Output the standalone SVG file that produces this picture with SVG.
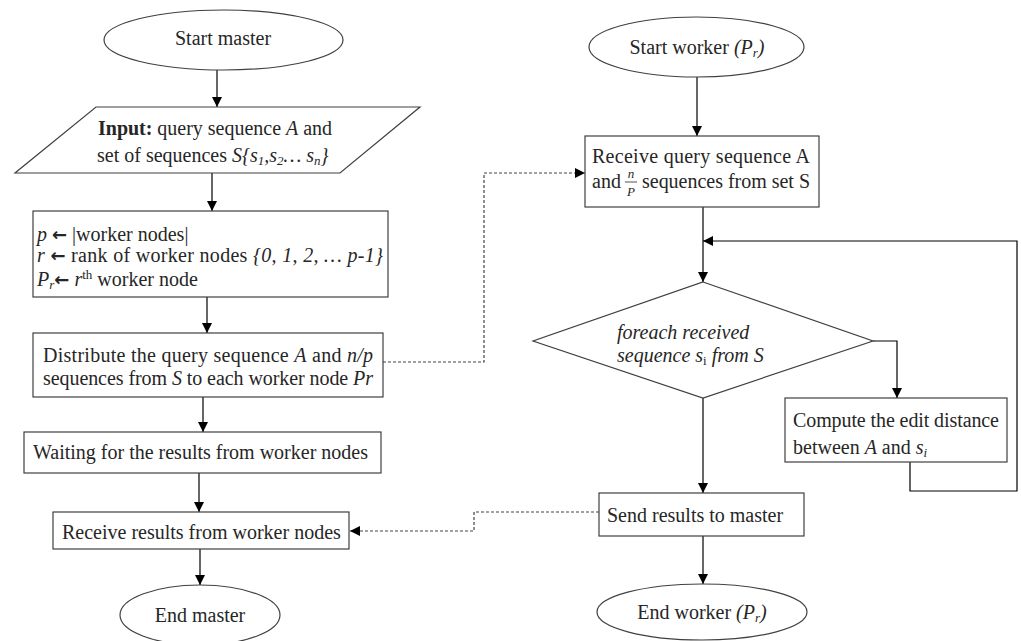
<svg xmlns="http://www.w3.org/2000/svg" width="1021" height="641" viewBox="0 0 1021 641">
<defs>
<marker id="ah" viewBox="0 0 10 10" refX="10" refY="5" markerWidth="10" markerHeight="10" markerUnits="userSpaceOnUse" orient="auto">
<path d="M0,0 L10,5 L0,10 z" fill="#000"/>
</marker>
</defs>
<style>
.shape{fill:#fff;stroke:#404040;stroke-width:1.2}
.t{font-family:"Liberation Serif","Times New Roman",serif;font-size:20px;fill:#262626}
.c{text-anchor:middle}
.i{font-style:italic}
.b{font-weight:bold}
.sm{font-size:13px}
.arr{font-family:"DejaVu Sans",sans-serif;font-weight:bold;font-size:18px}
.ln{fill:none;stroke:#000;stroke-width:1.2}
.dash{fill:none;stroke:#444;stroke-width:1.2;stroke-dasharray:3,2}
</style>
<rect width="1021" height="641" fill="#fff"/>

<g id="connectors">
<line class="ln" x1="217" y1="70" x2="217" y2="107" marker-end="url(#ah)"/>
<line class="ln" x1="212" y1="173" x2="212" y2="211" marker-end="url(#ah)"/>
<line class="ln" x1="207" y1="297" x2="207" y2="333" marker-end="url(#ah)"/>
<line class="ln" x1="203" y1="397" x2="203" y2="432" marker-end="url(#ah)"/>
<line class="ln" x1="199" y1="473" x2="199" y2="512" marker-end="url(#ah)"/>
<line class="ln" x1="200" y1="549" x2="200" y2="585" marker-end="url(#ah)"/>
<polyline class="dash" points="383,362 484,362 484,173 585,173" marker-end="url(#ah)"/>
<line class="ln" x1="697" y1="77" x2="697" y2="136" marker-end="url(#ah)"/>
<line class="ln" x1="703" y1="207" x2="703" y2="282" marker-end="url(#ah)"/>
<polyline class="ln" points="873,341 897,341 897,398" marker-end="url(#ah)"/>
<polyline class="ln" points="910,462 910,491 1017,491 1017,241 703,241" marker-end="url(#ah)"/>
<line class="ln" x1="703" y1="398" x2="703" y2="493" marker-end="url(#ah)"/>
<line class="ln" x1="703" y1="536" x2="703" y2="584" marker-end="url(#ah)"/>
<polyline class="dash" points="599,512 474,512 474,531 350,531" marker-end="url(#ah)"/>
</g>

<g id="start-master">
<ellipse class="shape" cx="223.5" cy="40" rx="119.5" ry="30"/>
<text class="t c" x="223" y="45">Start master</text>
</g>

<g id="input">
<polygon class="shape" points="96,107 420,107 340,173 15,173"/>
<text class="t" x="98" y="135" textLength="234" lengthAdjust="spacing"><tspan class="b">Input:</tspan> query sequence <tspan class="i">A</tspan> and</text>
<text class="t" x="97" y="162">set of sequences <tspan class="i">S{s<tspan class="sm" dy="3">1</tspan><tspan dy="-3">,s</tspan><tspan class="sm" dy="3">2</tspan><tspan dy="-3">… s</tspan><tspan class="sm" dy="3">n</tspan><tspan dy="-3">}</tspan></tspan></text>
</g>

<g id="init">
<rect class="shape" x="33" y="211" width="355" height="86"/>
<text class="t" x="37" y="241"><tspan class="i">p</tspan> <tspan class="arr">←</tspan> |worker nodes|</text>
<text class="t" x="37" y="262" textLength="346" lengthAdjust="spacing"><tspan class="i">r</tspan>  <tspan class="arr">←</tspan> rank of worker nodes <tspan class="i">{0, 1, 2, … p-1}</tspan></text>
<text class="t" x="37" y="286"><tspan class="i">P<tspan class="sm" dy="3">r</tspan></tspan><tspan class="arr" dy="-3">←</tspan><tspan> </tspan><tspan class="i">r</tspan><tspan class="sm" dy="-7">th</tspan><tspan dy="7"> worker node</tspan></text>
</g>

<g id="distribute">
<rect class="shape" x="33" y="333" width="350" height="64"/>
<text class="t" x="43" y="362" textLength="330" lengthAdjust="spacing">Distribute the query sequence <tspan class="i">A</tspan> and <tspan class="i">n/p</tspan></text>
<text class="t" x="43" y="385" textLength="330" lengthAdjust="spacing">sequences from <tspan class="i">S</tspan> to each worker node <tspan class="i">Pr</tspan></text>
</g>

<g id="waiting">
<rect class="shape" x="24" y="432" width="357" height="41"/>
<text class="t" x="33" y="459">Waiting for the results from worker nodes</text>
</g>

<g id="receive-results">
<rect class="shape" x="53" y="512" width="296" height="37"/>
<text class="t" x="62" y="539">Receive results from worker nodes</text>
</g>

<g id="end-master">
<ellipse class="shape" cx="200" cy="615" rx="80" ry="30"/>
<text class="t c" x="200" y="622">End master</text>
</g>

<g id="start-worker">
<ellipse class="shape" cx="696.5" cy="47" rx="107.5" ry="30"/>
<text class="t c" x="697" y="54">Start worker <tspan class="i">(P<tspan class="sm" dy="3">r</tspan><tspan dy="-3">)</tspan></tspan></text>
</g>

<g id="receive-query">
<rect class="shape" x="585" y="136" width="234" height="71"/>
<text class="t" x="592" y="163" textLength="218" lengthAdjust="spacing">Receive query sequence A</text>
<text class="t" x="592" y="188">and</text>
<text class="t i c sm" x="631" y="178">n</text>
<line x1="625" y1="182" x2="637" y2="182" stroke="#262626" stroke-width="0.8"/>
<text class="t i c sm" x="631" y="196">P</text>
<text class="t" x="642" y="188" textLength="168" lengthAdjust="spacing">sequences from set S</text>
</g>

<g id="foreach">
<polygon class="shape" points="703,282 873,341 703,398 533,341"/>
<text class="t i" x="617" y="339">foreach received</text>
<text class="t i" x="617" y="362">sequence s<tspan class="sm" font-style="normal" dy="3">i</tspan><tspan dy="-3">  from S</tspan></text>
</g>

<g id="compute">
<rect class="shape" x="785" y="398" width="222" height="64"/>
<text class="t" x="793" y="427" textLength="206" lengthAdjust="spacing">Compute the edit distance</text>
<text class="t" x="793" y="454">between <tspan class="i">A</tspan> and <tspan class="i">s</tspan><tspan class="sm i" dy="3">i</tspan></text>
</g>

<g id="send">
<rect class="shape" x="599" y="493" width="205" height="43"/>
<text class="t" x="607" y="522">Send results to master</text>
</g>

<g id="end-worker">
<ellipse class="shape" cx="702" cy="612" rx="105" ry="28"/>
<text class="t c" x="702" y="619">End worker <tspan class="i">(P<tspan class="sm" dy="3">r</tspan><tspan dy="-3">)</tspan></tspan></text>
</g>
</svg>
